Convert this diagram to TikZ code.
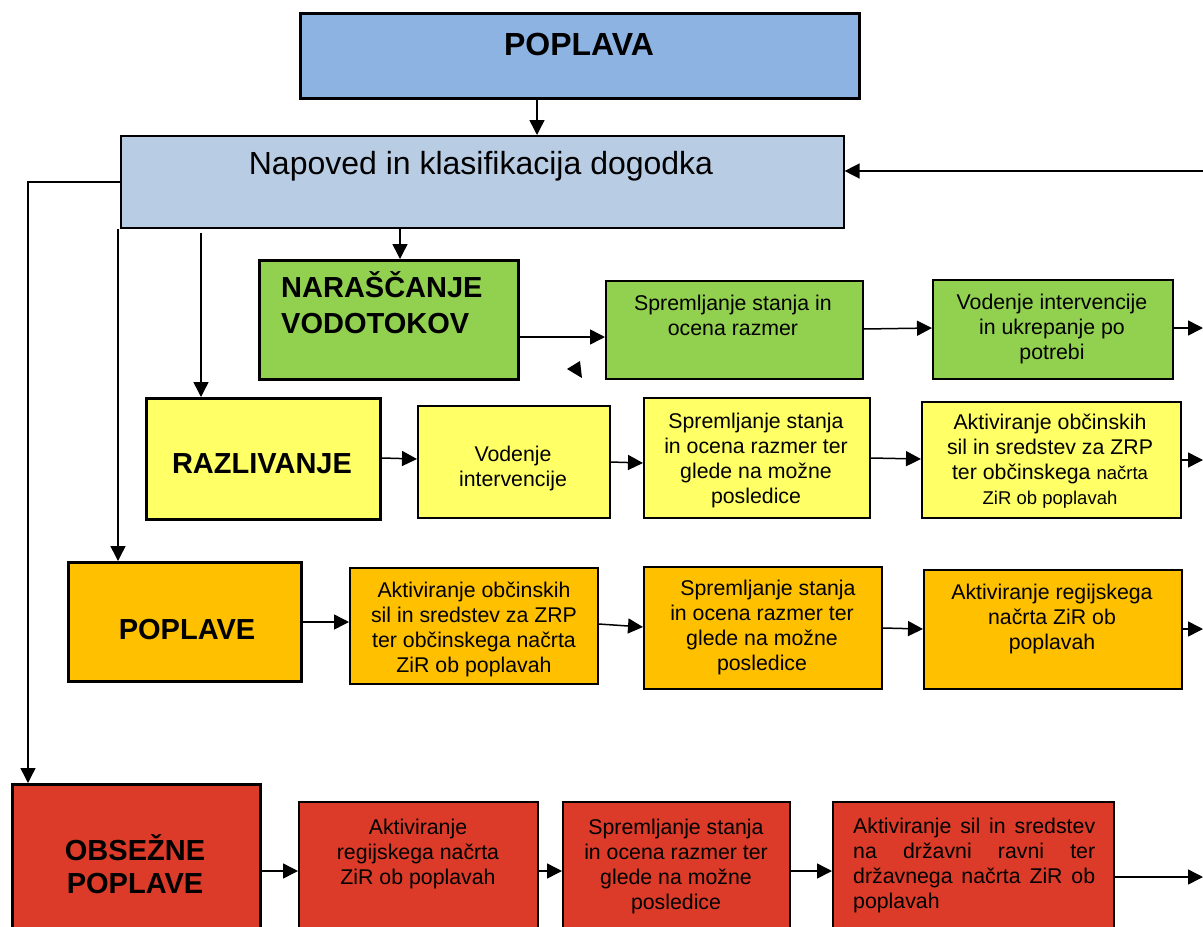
\documentclass[tikz,border=0pt]{standalone}
\usepackage{fontspec}
\setmainfont{Liberation Sans}
\usetikzlibrary{arrows.meta}
\definecolor{cTitle}{HTML}{8DB3E2}
\definecolor{cNap}{HTML}{B8CCE4}
\definecolor{cGreen}{HTML}{92D050}
\definecolor{cYellow}{HTML}{FFFF66}
\definecolor{cOrange}{HTML}{FFC000}
\definecolor{cRed}{HTML}{DB3B28}
\tikzset{
  boxthin/.style={draw=black, line width=1.6pt, inner sep=0pt},
  boxthick/.style={draw=black, line width=3.2pt, inner sep=0pt},
  txt/.style={inner sep=0pt, anchor=base, align=center, font=\fontsize{21.3}{25}\selectfont},
  bigtxt/.style={inner sep=0pt, anchor=base, align=center, font=\fontsize{29}{36}\selectfont\bfseries},
  conn/.style={draw=black, line width=1.5pt, -{Triangle[length=15pt,width=15pt]}},
}
\begin{document}
\begin{tikzpicture}[x=1pt,y=-1pt]
\clip (0,0) rectangle (1203,927);
\fill[white] (0,0) rectangle (1203,927);

% ---------- boxes ----------
\node[boxthick, fill=cTitle, minimum width=559pt, minimum height=85pt, anchor=north west] (title) at (299,12) {};
\node[boxthin, fill=cNap, minimum width=723pt, minimum height=92pt, anchor=north west] (nap) at (120,135) {};

\node[boxthick, fill=cGreen, minimum width=259pt, minimum height=119pt, anchor=north west] (g1) at (258,259) {};
\node[boxthin, fill=cGreen, minimum width=257pt, minimum height=98pt, anchor=north west] (g2) at (605,280) {};
\node[boxthin, fill=cGreen, minimum width=240pt, minimum height=99pt, anchor=north west] (g3) at (932,279) {};

\node[boxthick, fill=cYellow, minimum width=234pt, minimum height=121pt, anchor=north west] (y1) at (145,397) {};
\node[boxthin, fill=cYellow, minimum width=192pt, minimum height=112pt, anchor=north west] (y2) at (417,405) {};
\node[boxthin, fill=cYellow, minimum width=226pt, minimum height=120pt, anchor=north west] (y3) at (643,397) {};
\node[boxthin, fill=cYellow, minimum width=259pt, minimum height=116pt, anchor=north west] (y4) at (921,401) {};

\node[boxthick, fill=cOrange, minimum width=233pt, minimum height=119pt, anchor=north west] (o1) at (67,561) {};
\node[boxthin, fill=cOrange, minimum width=248pt, minimum height=116pt, anchor=north west] (o2) at (349,567) {};
\node[boxthin, fill=cOrange, minimum width=238pt, minimum height=122pt, anchor=north west] (o3) at (643,566) {};
\node[boxthin, fill=cOrange, minimum width=258pt, minimum height=119pt, anchor=north west] (o4) at (923,569) {};

\node[boxthick, fill=cRed, minimum width=248pt, minimum height=170pt, anchor=north west] (r1) at (11,783) {};
\node[boxthin, fill=cRed, minimum width=239pt, minimum height=150pt, anchor=north west] (r2) at (298,801) {};
\node[boxthin, fill=cRed, minimum width=227pt, minimum height=150pt, anchor=north west] (r3) at (562,801) {};
\node[boxthin, fill=cRed, minimum width=281pt, minimum height=150pt, anchor=north west] (r4) at (832,801) {};

% ---------- texts (base = baseline of last line) ----------
\node[inner sep=0pt, anchor=base, font=\fontsize{32}{38}\selectfont\bfseries] (ttitle) at (579,55) {POPLAVA};
\node[inner sep=0pt, anchor=base, font=\fontsize{32}{38}\selectfont] (tnap) at (481,174) {Napoved in klasifikacija dogodka};

\node[bigtxt, align=left, anchor=base west] (tg1) at (281,333) {NARAŠČANJE\\VODOTOKOV};
\node[txt] (tg2) at (733,335) {Spremljanje stanja in\\ocena razmer};
\node[txt] (tg3) at (1052,359) {Vodenje intervencije\\in ukrepanje po\\potrebi};

\node[bigtxt] (ty1) at (262,473) {RAZLIVANJE};
\node[txt] (ty2) at (513,486) {Vodenje\\intervencije};
\node[txt] (ty3) at (756,503) {Spremljanje stanja\\in ocena razmer ter\\glede na možne\\posledice};
\node[txt] (ty4) at (1050,504) {Aktiviranje občinskih\\sil in sredstev za ZRP\\ter občinskega {\fontsize{18.5}{25}\selectfont načrta}\\{\fontsize{18.5}{25}\selectfont ZiR ob poplavah}};

\node[bigtxt] (to1) at (187,639) {POPLAVE};
\node[txt] (to2) at (474,672) {Aktiviranje občinskih\\sil in sredstev za ZRP\\ter občinskega načrta\\ZiR ob poplavah};
\node[txt] (to3) at (762,670) {\hspace*{12pt}Spremljanje stanja\\in ocena razmer ter\\glede na možne\\posledice};
\node[txt] (to4) at (1052,649) {Aktiviranje regijskega\\načrta ZiR ob\\poplavah};

\node[bigtxt, font=\fontsize{29}{33}\selectfont\bfseries] (tr1) at (135,893) {OBSEŽNE\\POPLAVE};
\node[txt] (tr2) at (418,884) {Aktiviranje\\regijskega načrta\\ZiR ob poplavah};
\node[txt] (tr3) at (676,909) {Spremljanje stanja\\in ocena razmer ter\\glede na možne\\posledice};
\node[txt, align=justify, text width=242pt, anchor=north west] (tr4) at (853,818) {\hyphenpenalty=10000\relax Aktiviranje sil in sredstev\linebreak na državni ravni ter\linebreak državnega načrta ZiR ob\linebreak poplavah};

% ---------- coordinates ----------
\coordinate (eRin) at (1203,171);
\coordinate (eG) at (1203,328);
\coordinate (eY) at (1203,460);
\coordinate (eO) at (1203,629);
\coordinate (eR) at (1203,877);
\coordinate (sRaz) at (201,233);
\coordinate (k1) at (28,182);

% ---------- connectors ----------
\draw[conn] (title.south -| 537,0) -- (nap.north -| 537,0);
\draw[conn] (eRin) -- (nap.east |- eRin);
\draw[conn] (nap.west |- k1) -- (k1) -- (r1.north -| k1);
\draw[conn] (nap.south west -| 118,0) -- (o1.north -| 118,0);
\draw[conn] (sRaz) -- (y1.north -| sRaz);
\draw[conn] (nap.south -| 400,0) -- (g1.north -| 400,0);

\draw[conn] (g1.east |- 0,337) -- (g2.west |- 0,337);
\draw[conn] (g2.east |- 0,329) -- (g3.west |- 0,328);
\draw[conn] (g3.east |- 0,328) -- (eG);

\draw[conn] (y1.east |- 0,458) -- (y2.west |- 0,459);
\draw[conn] (y2.east |- 0,462) -- (y3.west |- 0,463);
\draw[conn] (y3.east |- 0,458) -- (y4.west |- 0,459);
\draw[conn] (y4.east |- 0,460) -- (eY);

\draw[conn] (o1.east |- 0,622) -- (o2.west |- 0,622);
\draw[conn] (o2.east |- 0,624) -- (o3.west |- 0,627);
\draw[conn] (o3.east |- 0,628) -- (o4.west |- 0,629);
\draw[conn] (o4.east |- 0,629) -- (eO);

\draw[conn] (r1.east |- 0,871) -- (r2.west |- 0,871);
\draw[conn] (r2.east |- 0,871) -- (r3.west |- 0,871);
\draw[conn] (r3.east |- 0,871) -- (r4.west |- 0,871);
\draw[conn] (r4.east |- 0,877) -- (eR);

% stray arrowhead
\fill[black] (567,369) -- (580,361) -- (582,378) -- cycle;
\end{tikzpicture}
\end{document}
